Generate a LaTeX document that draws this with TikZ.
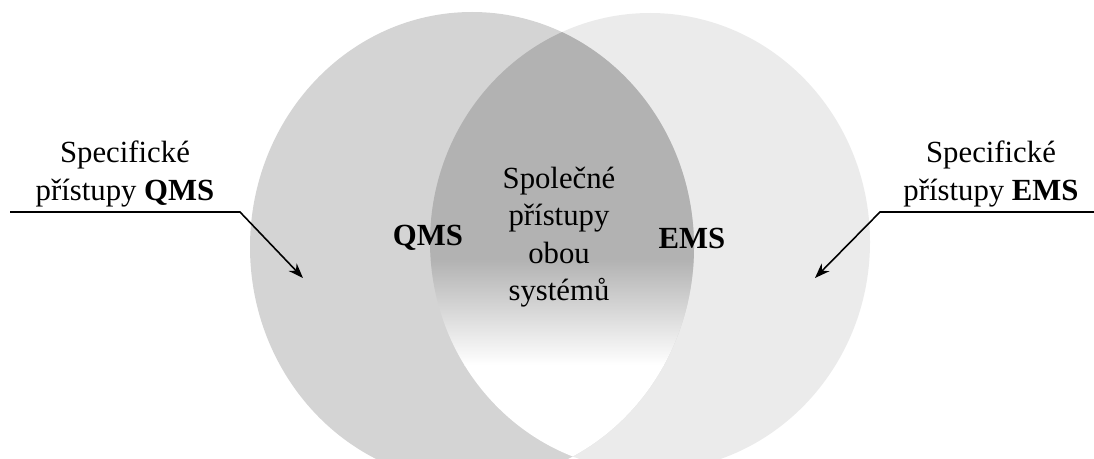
\documentclass[tikz,border=0pt]{standalone}
\usepackage{fontspec}
\setmainfont{Liberation Serif}
\usetikzlibrary{arrows.meta,positioning,calc}
\definecolor{qmsgray}{gray}{0.83}
\definecolor{emsgray}{gray}{0.92}
\definecolor{lensgray}{gray}{0.70}
\newcommand{\txtsize}{\fontsize{17.5}{21.3}\selectfont}

\begin{document}
\begin{tikzpicture}[x=0.02cm,y=-0.02cm,
    label/.style={align=center,inner sep=0pt,font=\txtsize},
    pointer/.style={line width=0.9pt,-{Stealth[length=3mm,width=2.2mm]}}]
    \useasboundingbox (0,0) rectangle (1094,459);
    \clip (0,0) rectangle (1094,459);
    \def\qms{(472,247) ellipse [x radius=222,y radius=235]}
    \def\ems{(650,242) ellipse [x radius=220,y radius=229]}
    \fill[emsgray] \ems;
    \fill[qmsgray] \qms;
    \begin{scope}
        \clip \qms;
        \clip \ems;
        \fill[lensgray] (0,0) rectangle (1094,260);
        \shade[top color=lensgray,bottom color=white] (0,260) rectangle (1094,365);
        \fill[white] (0,365) rectangle (1094,470);
    \end{scope}
    \node[label] (common) at (559,237) {Společné\\přístupy\\obou\\systémů};
    \node[label,font=\txtsize\bfseries] (qmsname) at (428,238) {QMS};
    \node[label,font=\txtsize\bfseries] (emsname) at (692,238) {EMS};
    \node[label] (qmstext) at (125,174) {Specifické\\přístupy \textbf{QMS}};
    \node[label] (emstext) at (991,174) {Specifické\\přístupy \textbf{EMS}};
    \coordinate (qmsstart) at (10,212);
    \coordinate (qmsknee) at (240,212);
    \coordinate (qmstip) at (303,278);
    \coordinate (emsstart) at (1094,212);
    \coordinate (emsknee) at (880,212);
    \coordinate (emstip) at (815,278);
    \draw[pointer] (qmsstart) -- (qmsknee) -- (qmstip);
    \draw[pointer] (emsstart) -- (emsknee) -- (emstip);
\end{tikzpicture}
\end{document}
